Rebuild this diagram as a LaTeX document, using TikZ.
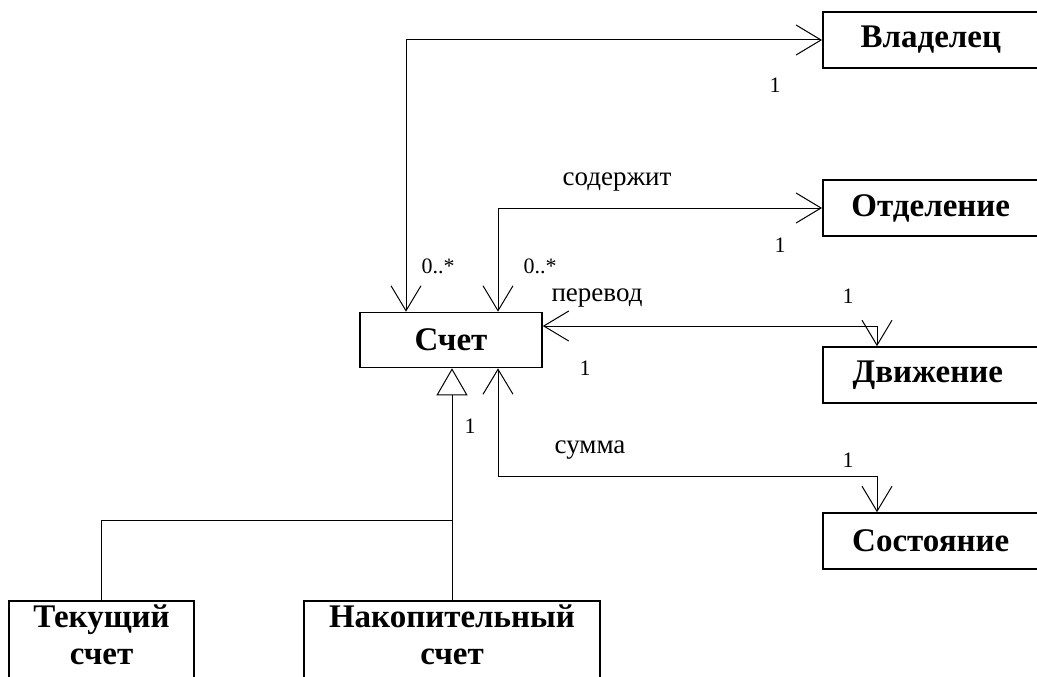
\documentclass[tikz,border=0pt]{standalone}
\usepackage{fontspec}
\setmainfont{Liberation Serif}
\usetikzlibrary{arrows.meta}
\begin{document}
\begin{tikzpicture}[x=1pt,y=-1pt,
  box/.style={draw, line width=1.6pt, rectangle, inner xsep=0pt, inner ysep=4pt,
    font=\fontsize{33}{37}\selectfont\bfseries},
  rbox/.style={box, anchor=west, minimum width=240pt, minimum height=56pt},
  lowbox/.style={box, anchor=north, align=center, text depth=50pt},
  conn/.style={line width=1pt},
  barb/.tip={Straight Barb[length=25pt,width=30pt]},
  gen/.tip={Triangle[open,length=27pt,width=31pt,fill=white]},
  mult/.style={font=\fontsize{22}{24}\selectfont, inner sep=0pt},
  lbl/.style={font=\fontsize{27}{30}\selectfont, inner sep=0pt}]
\clip (0,0) rectangle (1037,677);
% boxes
\node[box, minimum width=182pt, minimum height=55pt] (schet) at (451,340) {Счет};
\node[rbox] (vlad) at (822,40) {Владелец\kern24pt};
\node[rbox] (otd) at (822,208) {Отделение\kern24pt};
\node[rbox] (dvi) at (822,375) {Движение\kern30pt};
\node[rbox] (sost) at (822,541) {Состояние\kern24pt};
\node[lowbox, minimum width=185pt] (tek) at (101.5,600) {Текущий\\счет};
\node[lowbox, minimum width=296pt] (nak) at (452,600) {Накопительный\\счет};
% helper coordinates
\coordinate (xa) at (406,0);
\coordinate (xb) at (498,0);
\coordinate (xc) at (877,0);
\coordinate (yc) at (0,326);
\coordinate (yd) at (0,476);
\coordinate (ye) at (0,520);
% connectors
\draw[conn, barb-barb] (schet.north -| xa) |- (vlad.west);
\draw[conn, barb-barb] (schet.north -| xb) |- (otd.west);
\draw[conn, barb-barb] (schet.east |- yc) -| (dvi.north -| xc);
\draw[conn, barb-barb] (schet.south -| xb) -- (xb |- yd) -| (sost.north -| xc);
\draw[conn, -gen] (nak.north) -- (schet.south -| nak.north);
\draw[conn] (tek.north) |- (nak.north |- ye);
% labels
\node[mult] (m1) at (775,85) {1};
\node[mult] (m2) at (438,266) {0..*};
\node[mult] (m3) at (540,266) {0..*};
\node[lbl] (l1) at (617,182) {содержит};
\node[mult] (m4) at (780,245) {1};
\node[lbl] (l2) at (597,298) {перевод};
\node[mult] (m5) at (848,296) {1};
\node[mult] (m6) at (585,368) {1};
\node[mult] (m7) at (470,426) {1};
\node[lbl] (l3) at (590,450) {сумма};
\node[mult] (m8) at (848,460) {1};
\end{tikzpicture}
\end{document}
